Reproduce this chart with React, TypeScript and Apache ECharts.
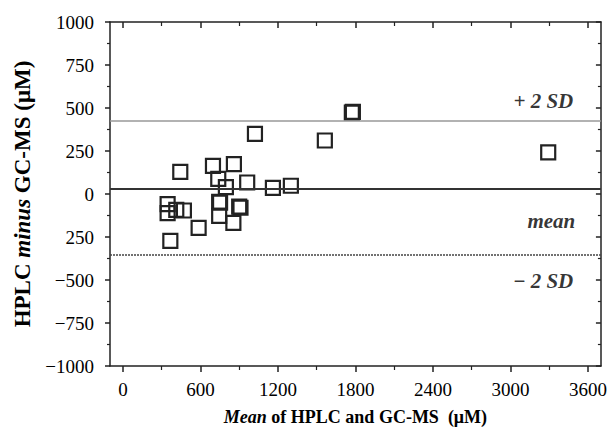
import React, { useEffect, useRef } from "react";
import * as echarts from "echarts";

// Bland–Altman data: [mean of HPLC and GC-MS, HPLC minus GC-MS] (µM)
const meanValues = [444, 697, 859, 738, 797, 962, 1161, 1300, 346, 346, 413, 472, 745, 752, 745, 900, 910, 855, 586, 367, 1022, 1563, 1772, 1780, 3292];
const diffValues = [129, 164, 174, 88, 40, 67, 36, 48, -59, -111, -92, -96, -45, -50, -127, -73, -80, -168, -197, -272, 350, 311, 473, 478, 242];

const meanDiff = 33;
const plus2SD = 428;
const minus2SD = -355;

const xLabelValues = [0, 600, 1200, 1800, 2400, 3000, 3600];
const xMinorValues = [300, 900, 1500, 2100, 2700, 3300];
const yTickValues = [-1000, -750, -500, -250, 0, 250, 500, 750, 1000];
const yTickLabels = ["\u22121000", "\u2212750", "\u2212500", "250", "0", "250", "500", "750", "1000"];

const lineLabels = ["+ 2 SD", "mean", "\u2212 2 SD"];
const lineLabelPos = [[3490, 538], [3505, -156], [3490, -505]];

const FONT = "Liberation Serif";

export default function App() {
  const ref = useRef<HTMLDivElement>(null);
  useEffect(() => {
    if (!ref.current) return;
    const chart = echarts.init(ref.current, undefined, { renderer: "svg" });
    const axisLine = { show: true, onZero: false, lineStyle: { color: "#222", width: 1.5 } };
    const hiddenLine = { show: false, onZero: false };
    const option: any = {
      animation: false,
      backgroundColor: "#fff",
      grid: { left: 110, right: 8, top: 22, bottom: 77, containLabel: false },
      xAxis: [
        {
          type: "value", position: "bottom", min: -100, max: 3700,
          axisLine,
          axisTick: { show: true, length: 6, inside: false, customValues: xLabelValues, lineStyle: { color: "#222", width: 1.5 } },
          axisLabel: {
            customValues: xLabelValues, margin: 14, color: "#000", fontFamily: FONT, fontSize: 19,
            formatter: (v: number) => String(v),
          },
          splitLine: { show: false },
          name: "{i|Mean} of HPLC and GC-MS  (\u03bcM)",
          nameLocation: "middle", nameGap: 42,
          nameTextStyle: {
            fontFamily: FONT, fontSize: 18, fontWeight: "bold", color: "#000",
            rich: { i: { fontFamily: FONT, fontSize: 18, fontWeight: "bold", fontStyle: "italic", color: "#000" } },
          },
        },
        {
          type: "value", position: "bottom", min: -100, max: 3700,
          axisLine: hiddenLine,
          axisTick: { show: true, length: 4, inside: false, customValues: xMinorValues, lineStyle: { color: "#222", width: 1.2 } },
          axisLabel: { show: false },
          splitLine: { show: false },
        },
        {
          type: "value", position: "top", min: -100, max: 3700,
          axisLine,
          axisTick: { show: true, length: 6, inside: true, customValues: xLabelValues, lineStyle: { color: "#222", width: 1.5 } },
          axisLabel: { show: false },
          splitLine: { show: false },
        },
        {
          type: "value", position: "top", min: -100, max: 3700,
          axisLine: hiddenLine,
          axisTick: { show: true, length: 4, inside: true, customValues: xMinorValues, lineStyle: { color: "#222", width: 1.2 } },
          axisLabel: { show: false },
          splitLine: { show: false },
        },
      ],
      yAxis: [
        {
          type: "value", position: "left", min: -1000, max: 1000, interval: 250,
          axisLine,
          axisTick: { show: true, length: 5, inside: false, lineStyle: { color: "#222", width: 1.5 } },
          minorTick: { show: true, splitNumber: 2, length: 3, lineStyle: { color: "#222", width: 1.2 } },
          axisLabel: {
            margin: 16, color: "#000", fontFamily: FONT, fontSize: 19,
            formatter: (v: number) => {
              const i = yTickValues.indexOf(v);
              return i >= 0 ? yTickLabels[i] : "";
            },
          },
          splitLine: { show: false },
          name: "HPLC {i|minus} GC-MS (\u03bcM)",
          nameLocation: "middle", nameGap: 72, nameRotate: 90,
          nameTextStyle: {
            fontFamily: FONT, fontSize: 23, fontWeight: "bold", color: "#000",
            rich: { i: { fontFamily: FONT, fontSize: 23, fontWeight: "bold", fontStyle: "italic", color: "#000" } },
          },
        },
        {
          type: "value", position: "right", min: -1000, max: 1000, interval: 250,
          axisLine,
          axisTick: { show: true, length: 5, inside: true, lineStyle: { color: "#222", width: 1.5 } },
          minorTick: { show: true, splitNumber: 2, length: 3, lineStyle: { color: "#222", width: 1.2 } },
          axisLabel: { show: false },
          splitLine: { show: false },
        },
      ],
      series: [
        {
          type: "scatter",
          xAxisIndex: 0, yAxisIndex: 0,
          symbol: "rect",
          symbolSize: 14,
          itemStyle: { color: "rgba(255,255,255,0)", borderColor: "#222", borderWidth: 2.2, opacity: 1 },
          data: meanValues.map((m, i) => [m, diffValues[i]]),
          markLine: {
            silent: true, symbol: "none", label: { show: false },
            data: [
              { yAxis: plus2SD, lineStyle: { color: "#999", width: 1.5, type: "solid", opacity: 1 } },
              { yAxis: meanDiff, lineStyle: { color: "#333", width: 2, type: "solid", opacity: 1 } },
              { yAxis: minus2SD, lineStyle: { color: "#444", width: 1.5, type: [2, 1], opacity: 1 } },
            ],
          },
          z: 3,
        },
        {
          type: "scatter",
          xAxisIndex: 0, yAxisIndex: 0,
          symbolSize: 1,
          itemStyle: { color: "rgba(0,0,0,0)", borderWidth: 0 },
          silent: true,
          data: lineLabelPos.map((p, i) => ({ value: p, name: lineLabels[i] })),
          label: {
            show: true, position: "left", distance: 0,
            formatter: (p: any) => p.name,
            fontFamily: FONT, fontSize: 21, fontWeight: "bold", fontStyle: "italic", color: "#000",
          },
          z: 5,
        },
      ],
    };
    chart.setOption(option);
    return () => chart.dispose();
  }, []);
  return <div ref={ref} style={{ width: 610, height: 443, position: "absolute", left: 0, top: 0 }} />;
}
